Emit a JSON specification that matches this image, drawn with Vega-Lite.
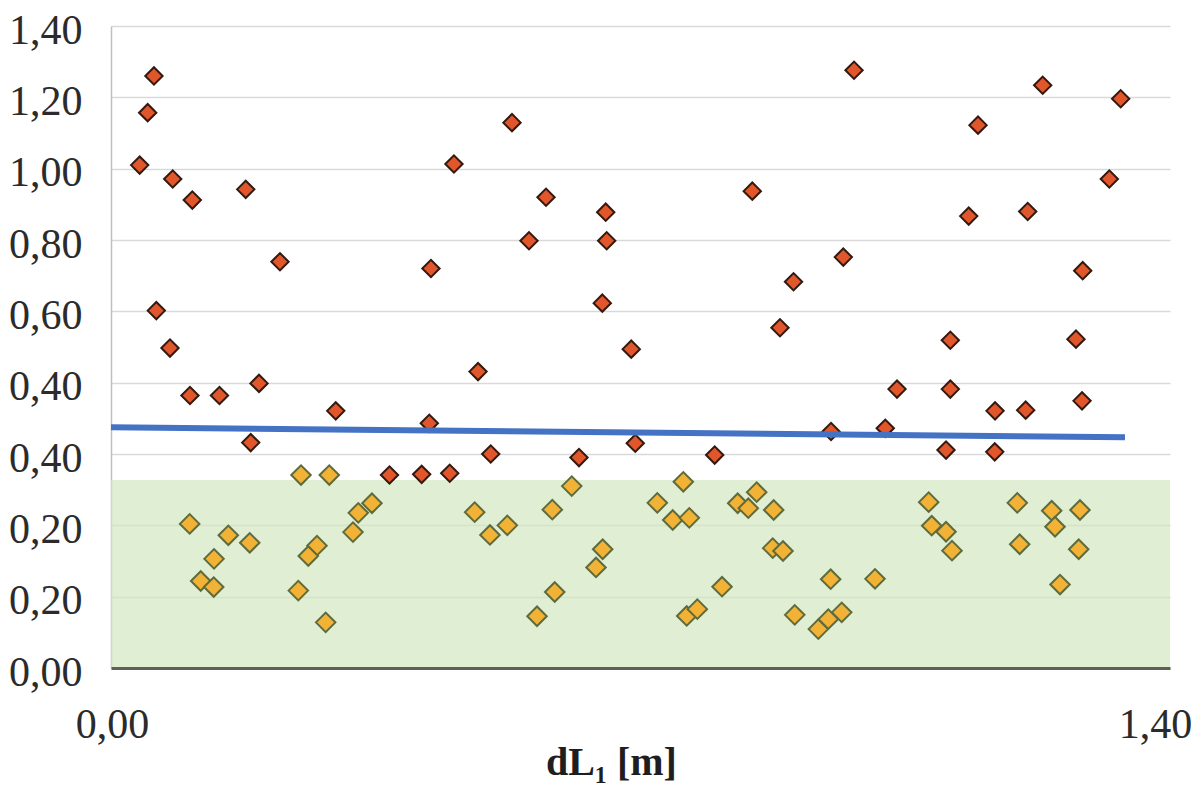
{
  "$schema": "https://vega.github.io/schema/vega-lite/v6.json",
  "width": 1059,
  "height": 642,
  "autosize": {"type": "none"},
  "padding": {"left": 111, "top": 26, "right": 25, "bottom": 123},
  "background": "white",
  "config": {"view": {"stroke": null}},
  "datasets": {
    "zone": [{"x0": 0, "x1": 1.4, "y0": 0, "y1": 0.527}],
    "trend": [{"x": 0, "y": 0.675}, {"x": 1.3405, "y": 0.647}],
    "pts": [
      {"x": 0.0568, "y": 1.660, "s": "A"}, {"x": 0.0485, "y": 1.557, "s": "A"}, {"x": 0.0379, "y": 1.410, "s": "A"},
      {"x": 0.0816, "y": 1.371, "s": "A"}, {"x": 0.1075, "y": 1.312, "s": "A"}, {"x": 0.1781, "y": 1.342, "s": "A"},
      {"x": 0.2234, "y": 1.139, "s": "A"}, {"x": 0.0599, "y": 1.002, "s": "A"}, {"x": 0.0780, "y": 0.897, "s": "A"},
      {"x": 0.1957, "y": 0.798, "s": "A"}, {"x": 0.1044, "y": 0.764, "s": "A"}, {"x": 0.1434, "y": 0.764, "s": "A"},
      {"x": 0.2971, "y": 0.721, "s": "A"}, {"x": 0.1847, "y": 0.632, "s": "A"}, {"x": 0.3682, "y": 0.541, "s": "A"},
      {"x": 0.5301, "y": 1.529, "s": "A"}, {"x": 0.4534, "y": 1.413, "s": "A"}, {"x": 0.5751, "y": 1.320, "s": "A"},
      {"x": 0.6540, "y": 1.278, "s": "A"}, {"x": 0.8478, "y": 1.337, "s": "A"}, {"x": 0.5526, "y": 1.198, "s": "A"},
      {"x": 0.6553, "y": 1.198, "s": "A"}, {"x": 0.4230, "y": 1.120, "s": "A"}, {"x": 0.9023, "y": 1.083, "s": "A"},
      {"x": 0.6495, "y": 1.023, "s": "A"}, {"x": 0.8844, "y": 0.954, "s": "A"}, {"x": 0.6878, "y": 0.894, "s": "A"},
      {"x": 0.4852, "y": 0.831, "s": "A"}, {"x": 0.9823, "y": 1.676, "s": "A"}, {"x": 1.2317, "y": 1.634, "s": "A"},
      {"x": 1.3348, "y": 1.596, "s": "A"}, {"x": 1.1462, "y": 1.522, "s": "A"}, {"x": 1.3198, "y": 1.371, "s": "A"},
      {"x": 1.1339, "y": 1.267, "s": "A"}, {"x": 1.2119, "y": 1.280, "s": "A"}, {"x": 0.9681, "y": 1.152, "s": "A"},
      {"x": 1.2846, "y": 1.114, "s": "A"}, {"x": 1.1096, "y": 0.919, "s": "A"}, {"x": 1.2757, "y": 0.922, "s": "A"},
      {"x": 1.0391, "y": 0.782, "s": "A"}, {"x": 1.1096, "y": 0.782, "s": "A"}, {"x": 1.1687, "y": 0.721, "s": "A"},
      {"x": 1.2092, "y": 0.723, "s": "A"}, {"x": 1.2837, "y": 0.749, "s": "A"}, {"x": 0.9519, "y": 0.663, "s": "A"},
      {"x": 1.0236, "y": 0.672, "s": "A"}, {"x": 1.1039, "y": 0.611, "s": "A"}, {"x": 1.1683, "y": 0.606, "s": "A"},
      {"x": 0.4208, "y": 0.686, "s": "A"}, {"x": 0.6931, "y": 0.630, "s": "A"}, {"x": 0.5020, "y": 0.600, "s": "A"},
      {"x": 0.6187, "y": 0.590, "s": "A"}, {"x": 0.7981, "y": 0.597, "s": "A"}, {"x": 0.4107, "y": 0.543, "s": "A"},
      {"x": 0.4478, "y": 0.546, "s": "A"},
      {"x": 0.1040, "y": 0.404, "s": "B"}, {"x": 0.1551, "y": 0.372, "s": "B"}, {"x": 0.1834, "y": 0.351, "s": "B"},
      {"x": 0.1362, "y": 0.306, "s": "B"}, {"x": 0.1186, "y": 0.244, "s": "B"}, {"x": 0.1358, "y": 0.227, "s": "B"},
      {"x": 0.2512, "y": 0.541, "s": "B"}, {"x": 0.2886, "y": 0.541, "s": "B"}, {"x": 0.2723, "y": 0.343, "s": "B"},
      {"x": 0.2608, "y": 0.314, "s": "B"}, {"x": 0.2476, "y": 0.217, "s": "B"}, {"x": 0.2838, "y": 0.128, "s": "B"},
      {"x": 0.3199, "y": 0.381, "s": "B"}, {"x": 0.3269, "y": 0.435, "s": "B"}, {"x": 0.3450, "y": 0.462, "s": "B"},
      {"x": 0.4808, "y": 0.437, "s": "B"}, {"x": 0.5010, "y": 0.373, "s": "B"}, {"x": 0.5239, "y": 0.400, "s": "B"},
      {"x": 0.5834, "y": 0.444, "s": "B"}, {"x": 0.6091, "y": 0.510, "s": "B"}, {"x": 0.6500, "y": 0.333, "s": "B"},
      {"x": 0.6412, "y": 0.282, "s": "B"}, {"x": 0.5866, "y": 0.213, "s": "B"}, {"x": 0.5632, "y": 0.145, "s": "B"},
      {"x": 0.7222, "y": 0.463, "s": "B"}, {"x": 0.7566, "y": 0.522, "s": "B"}, {"x": 0.7426, "y": 0.415, "s": "B"},
      {"x": 0.7645, "y": 0.421, "s": "B"}, {"x": 0.8285, "y": 0.462, "s": "B"}, {"x": 0.8536, "y": 0.493, "s": "B"},
      {"x": 0.8425, "y": 0.448, "s": "B"}, {"x": 0.8761, "y": 0.443, "s": "B"}, {"x": 0.8748, "y": 0.336, "s": "B"},
      {"x": 0.8884, "y": 0.328, "s": "B"}, {"x": 0.8078, "y": 0.228, "s": "B"}, {"x": 0.7611, "y": 0.146, "s": "B"},
      {"x": 0.7751, "y": 0.165, "s": "B"}, {"x": 0.9039, "y": 0.149, "s": "B"}, {"x": 0.9514, "y": 0.249, "s": "B"},
      {"x": 1.0100, "y": 0.250, "s": "B"}, {"x": 0.9351, "y": 0.109, "s": "B"}, {"x": 0.9483, "y": 0.137, "s": "B"},
      {"x": 0.9660, "y": 0.156, "s": "B"}, {"x": 1.0810, "y": 0.465, "s": "B"}, {"x": 1.0850, "y": 0.399, "s": "B"},
      {"x": 1.1039, "y": 0.382, "s": "B"}, {"x": 1.1118, "y": 0.329, "s": "B"}, {"x": 1.1981, "y": 0.463, "s": "B"},
      {"x": 1.2013, "y": 0.347, "s": "B"}, {"x": 1.2436, "y": 0.441, "s": "B"}, {"x": 1.2480, "y": 0.396, "s": "B"},
      {"x": 1.2810, "y": 0.443, "s": "B"}, {"x": 1.2793, "y": 0.333, "s": "B"}, {"x": 1.2546, "y": 0.234, "s": "B"}
    ]
  },
  "layer": [
    {
      "data": {"name": "zone"},
      "mark": {"type": "rect", "fill": "#d3e7c1", "opacity": 0.7},
      "encoding": {
        "x": {"field": "x0", "type": "quantitative", "scale": {"domain": [0, 1.4], "nice": false, "zero": false},
          "axis": {
            "values": [0, 1.4],
            "labelExpr": "replace(format(datum.value, '.2f'), '.', ',')",
            "labelFont": "Liberation Serif", "labelFontSize": 42, "labelColor": "#2b2b2b",
            "labelPadding": 36, "ticks": false, "tickSize": 0, "grid": false,
            "labelFlush": false, "labelAlign": "center",
            "labelOffset": {"condition": {"test": "datum.value > 1", "value": -15}, "value": 1},
            "domainColor": "#5f5f58", "domainWidth": 3,
            "zindex": 1,
            "title": "dL₁ [m]", "titleFont": "Liberation Serif", "titleFontSize": 40, "titleFontWeight": "bold",
            "titleColor": "#1e1e1e", "titleX": 500, "titleY": 106, "titleAlign": "center", "titleBaseline": "alphabetic",
            "labelOverlap": false
          }},
        "x2": {"field": "x1"},
        "y": {"field": "y0", "type": "quantitative", "scale": {"domain": [0, 1.8], "nice": false, "zero": false},
          "axis": {
            "values": [0, 0.2, 0.4, 0.6, 0.8, 1.0, 1.2, 1.4, 1.6, 1.8],
            "labelExpr": "['0,00','0,20','0,20','0,40','0,40','0,60','0,80','1,00','1,20','1,40'][round(datum.value / 0.2)]",
            "labelFont": "Liberation Serif", "labelFontSize": 42, "labelColor": "#2b2b2b",
            "labelPadding": 29, "labelOffset": 4, "ticks": false, "tickSize": 0,
            "grid": true, "gridColor": "#d9d9d9", "gridWidth": 1.5,
            "domainColor": "#bfbfbf", "domainWidth": 1.5,
            "labelOverlap": false,
            "title": null
          }},
        "y2": {"field": "y1"}
      }
    },
    {
      "data": {"name": "pts"},
      "transform": [{"filter": "datum.s === 'B'"}],
      "mark": {"type": "point", "shape": "diamond", "filled": true, "fill": "#f1b236", "stroke": "#5e6b3c", "strokeWidth": 2, "size": 380, "opacity": 1},
      "encoding": {
        "x": {"field": "x", "type": "quantitative"},
        "y": {"field": "y", "type": "quantitative"}
      }
    },
    {
      "data": {"name": "pts"},
      "transform": [{"filter": "datum.s === 'A'"}],
      "mark": {"type": "point", "shape": "diamond", "filled": true, "fill": "#e2562b", "stroke": "#33190f", "strokeWidth": 2, "size": 300, "opacity": 1},
      "encoding": {
        "x": {"field": "x", "type": "quantitative"},
        "y": {"field": "y", "type": "quantitative"}
      }
    },
    {
      "data": {"name": "trend"},
      "mark": {"type": "line", "color": "#4472c4", "strokeWidth": 6},
      "encoding": {
        "x": {"field": "x", "type": "quantitative"},
        "y": {"field": "y", "type": "quantitative"}
      }
    }
  ]
}
